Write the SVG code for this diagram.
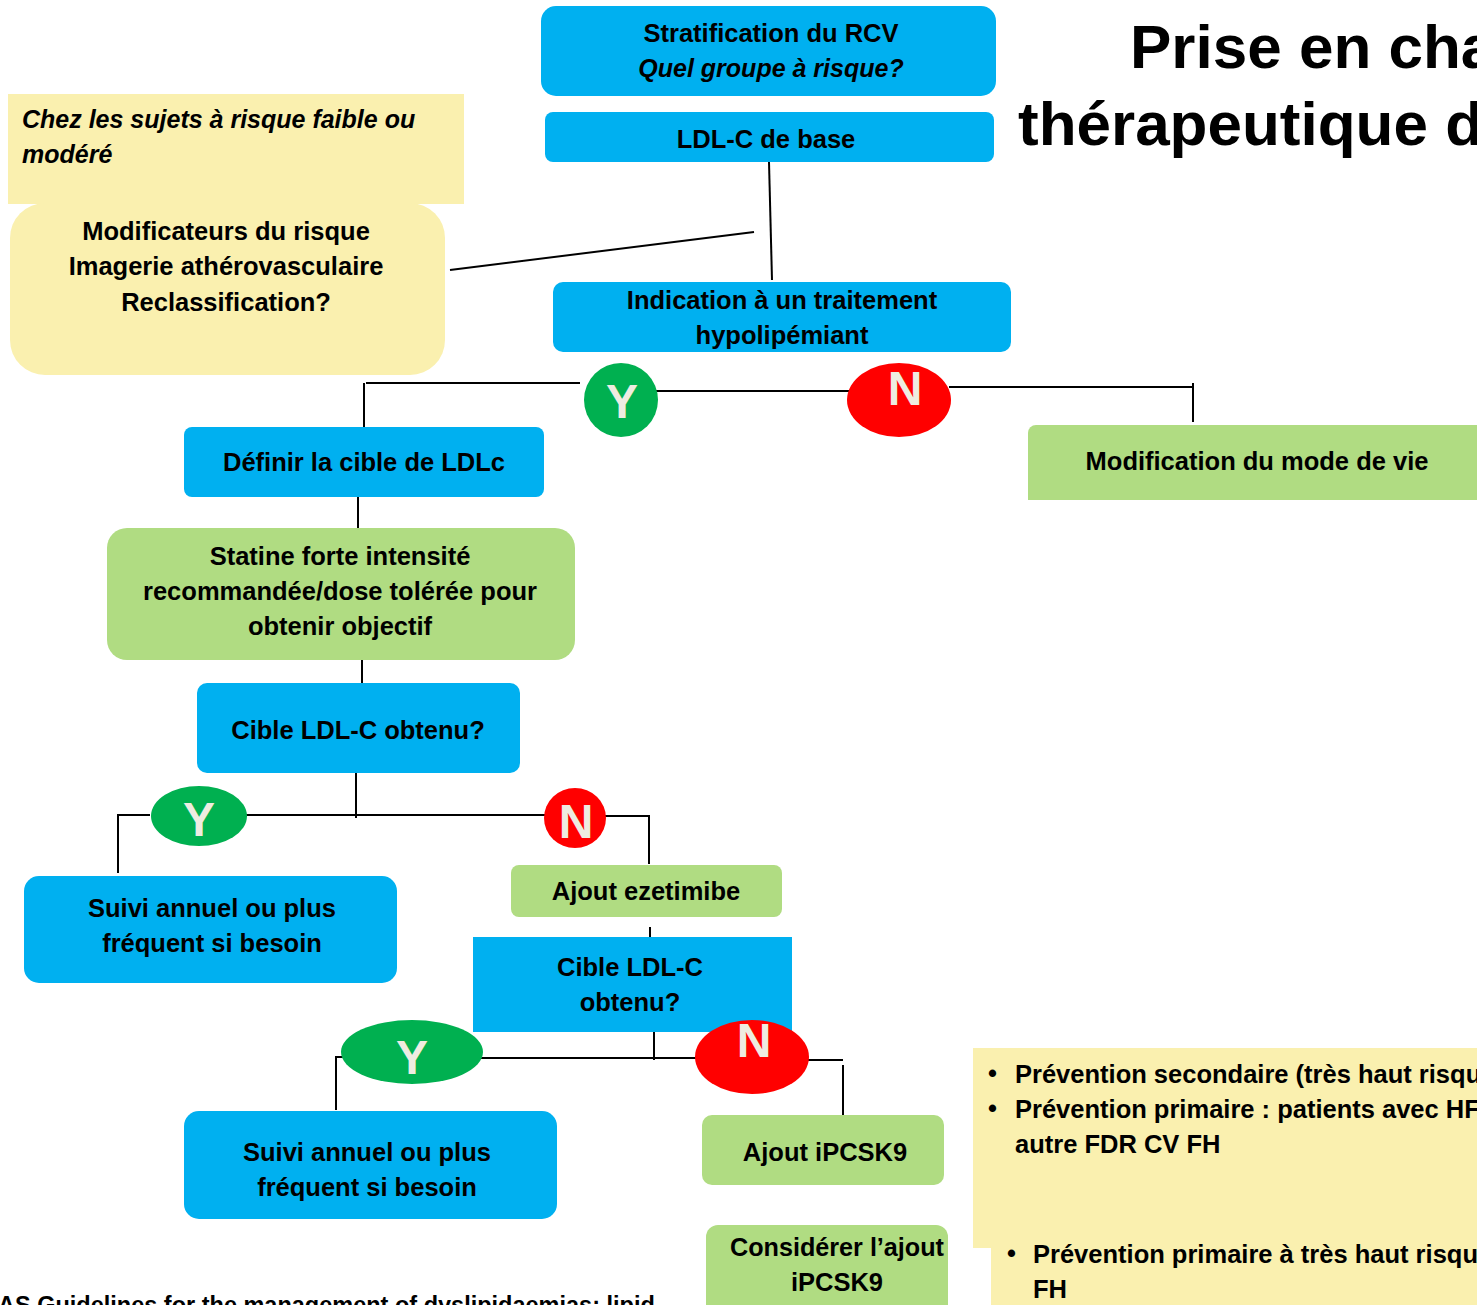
<svg xmlns="http://www.w3.org/2000/svg" width="1477" height="1305" viewBox="0 0 1477 1305">
<style>
.blue{fill:#00B0F0}
.green{fill:#B0DC82}
.yel{fill:#FAF0AF}
.t{font-family:"Liberation Sans",Arial,sans-serif;font-weight:bold;font-size:25.5px;fill:#000;text-anchor:middle}
.ti{font-family:"Liberation Sans",Arial,sans-serif;font-weight:bold;font-style:italic;font-size:25px;fill:#000}
.tl{font-family:"Liberation Sans",Arial,sans-serif;font-weight:bold;font-size:25.5px;fill:#000}
.yn{font-family:"Liberation Sans",Arial,sans-serif;font-weight:bold;font-size:48px;fill:#EEECE1;text-anchor:middle}
.title{font-family:"Liberation Sans",Arial,sans-serif;font-weight:bold;font-size:62px;fill:#000}
.c{stroke:#000;stroke-width:2;fill:none}
</style>
<rect width="1477" height="1305" fill="#fff"/>
<g id="title">
<text class="title" x="1130" y="68">Prise en charge</text>
<text class="title" x="1018" y="145">thérapeutique des</text>
</g>
<g id="connectors">
<line class="c" x1="450" y1="270" x2="754" y2="232"/>
<line class="c" x1="769" y1="162" x2="772" y2="280"/>
<line class="c" x1="366" y1="383" x2="580" y2="383"/>
<line class="c" x1="364" y1="383" x2="364" y2="427"/>
<line class="c" x1="643" y1="391" x2="880" y2="391"/>
<line class="c" x1="949" y1="387" x2="1193" y2="387"/>
<line class="c" x1="1193" y1="383" x2="1193" y2="422"/>
<line class="c" x1="358" y1="497" x2="358" y2="537"/>
<line class="c" x1="362" y1="650" x2="362" y2="690"/>
<line class="c" x1="356" y1="766" x2="356" y2="818"/>
<line class="c" x1="118" y1="815" x2="150" y2="815"/>
<line class="c" x1="118" y1="814" x2="118" y2="873"/>
<line class="c" x1="245" y1="815" x2="545" y2="815"/>
<line class="c" x1="605" y1="816" x2="650" y2="816"/>
<line class="c" x1="649" y1="815" x2="649" y2="864"/>
<line class="c" x1="650" y1="927" x2="650" y2="955"/>
<line class="c" x1="654" y1="1030" x2="654" y2="1060"/>
<line class="c" x1="336" y1="1057" x2="385" y2="1057"/>
<line class="c" x1="336" y1="1056" x2="336" y2="1110"/>
<line class="c" x1="438" y1="1058" x2="744" y2="1058"/>
<line class="c" x1="800" y1="1060" x2="843" y2="1060"/>
<line class="c" x1="843" y1="1065" x2="843" y2="1115"/>
</g>
<g id="strat">
<rect class="blue" x="541" y="6" width="455" height="90" rx="15"/>
<text class="t" x="771" y="42">Stratification du RCV</text>
<text class="ti" x="771" y="77" text-anchor="middle">Quel groupe à risque?</text>
</g>
<g id="ldlbase">
<rect class="blue" x="545" y="112" width="449" height="50" rx="8"/>
<text class="t" x="766" y="148">LDL-C de base</text>
</g>
<g id="faible">
<rect class="yel" x="8" y="94" width="456" height="110"/>
<text class="ti" x="22" y="128">Chez les sujets à risque faible ou</text>
<text class="ti" x="22" y="163">modéré</text>
</g>
<g id="modif">
<rect class="yel" x="10" y="203" width="435" height="172" rx="35"/>
<text class="t" x="226" y="240">Modificateurs du risque</text>
<text class="t" x="226" y="275">Imagerie athérovasculaire</text>
<text class="t" x="226" y="311">Reclassification?</text>
</g>
<g id="indication">
<rect class="blue" x="553" y="282" width="458" height="70" rx="10"/>
<text class="t" x="782" y="309">Indication à un traitement</text>
<text class="t" x="782" y="344">hypolipémiant</text>
</g>
<g id="y1">
<circle cx="621" cy="400" r="37" fill="#00B050"/>
<text class="yn" x="622" y="418">Y</text>
</g>
<g id="n1">
<ellipse cx="899" cy="400" rx="52" ry="37" fill="#FF0000"/>
<text class="yn" x="905" y="405">N</text>
</g>
<g id="definir">
<rect class="blue" x="184" y="427" width="360" height="70" rx="8"/>
<text class="t" x="364" y="471">Définir la cible de LDLc</text>
</g>
<g id="mode">
<rect class="green" x="1028" y="425" width="470" height="75" rx="8"/>
<rect class="green" x="1028" y="460" width="470" height="40"/>
<text class="t" x="1257" y="470">Modification du mode de vie</text>
</g>
<g id="statine">
<rect class="green" x="107" y="528" width="468" height="132" rx="20"/>
<text class="t" x="340" y="565">Statine forte intensité</text>
<text class="t" x="340" y="600">recommandée/dose tolérée pour</text>
<text class="t" x="340" y="635">obtenir objectif</text>
</g>
<g id="cible1">
<rect class="blue" x="197" y="683" width="323" height="90" rx="10"/>
<text class="t" x="358" y="739">Cible LDL-C obtenu?</text>
</g>
<g id="y2">
<ellipse cx="199" cy="816" rx="48" ry="30" fill="#00B050"/>
<text class="yn" x="199" y="836">Y</text>
</g>
<g id="n2">
<ellipse cx="575" cy="818" rx="31" ry="30" fill="#FF0000"/>
<text class="yn" x="576" y="838">N</text>
</g>
<g id="suivi1">
<rect class="blue" x="24" y="876" width="373" height="107" rx="15"/>
<text class="t" x="212" y="917">Suivi annuel ou plus</text>
<text class="t" x="212" y="952">fréquent si besoin</text>
</g>
<g id="ezetimibe">
<rect class="green" x="511" y="865" width="271" height="52" rx="8"/>
<text class="t" x="646" y="900">Ajout ezetimibe</text>
</g>
<g id="cible2">
<rect class="blue" x="473" y="937" width="319" height="95"/>
<text class="t" x="630" y="976">Cible LDL-C</text>
<text class="t" x="630" y="1011">obtenu?</text>
</g>
<g id="y3">
<ellipse cx="412" cy="1052" rx="71" ry="32" fill="#00B050"/>
<text class="yn" x="412" y="1074">Y</text>
</g>
<g id="n3">
<ellipse cx="752" cy="1057" rx="57" ry="37" fill="#FF0000"/>
<text class="yn" x="754" y="1057">N</text>
</g>
<g id="suivi2">
<rect class="blue" x="184" y="1111" width="373" height="108" rx="15"/>
<text class="t" x="367" y="1161">Suivi annuel ou plus</text>
<text class="t" x="367" y="1196">fréquent si besoin</text>
</g>
<g id="ipcsk9">
<rect class="green" x="702" y="1115" width="242" height="70" rx="10"/>
<text class="t" x="825" y="1161">Ajout iPCSK9</text>
</g>
<g id="considerer">
<rect class="green" x="706" y="1225" width="242" height="100" rx="12"/>
<text class="t" x="837" y="1256" textLength="214" lengthAdjust="spacingAndGlyphs">Considérer l’ajout</text>
<text class="t" x="837" y="1291">iPCSK9</text>
</g>
<g id="prevention">
<rect class="yel" x="973" y="1048" width="504" height="200"/>
<text class="tl" x="988" y="1082">•</text>
<text class="tl" x="1015" y="1083">Prévention secondaire (très haut risque)</text>
<text class="tl" x="988" y="1117">•</text>
<text class="tl" x="1015" y="1118">Prévention primaire : patients avec HF et</text>
<text class="tl" x="1015" y="1153">autre FDR CV FH</text>
</g>
<g id="prevention2">
<rect class="yel" x="991" y="1246" width="486" height="59"/>
<text class="tl" x="1007" y="1262">•</text>
<text class="tl" x="1033" y="1263">Prévention primaire à très haut risque</text>
<text class="tl" x="1033" y="1298">FH</text>
</g>
<g id="ref">
<text class="tl" x="-2" y="1313" style="font-size:23.5px">AS Guidelines for the management of dyslipidaemias: lipid</text>
</g>
</svg>
